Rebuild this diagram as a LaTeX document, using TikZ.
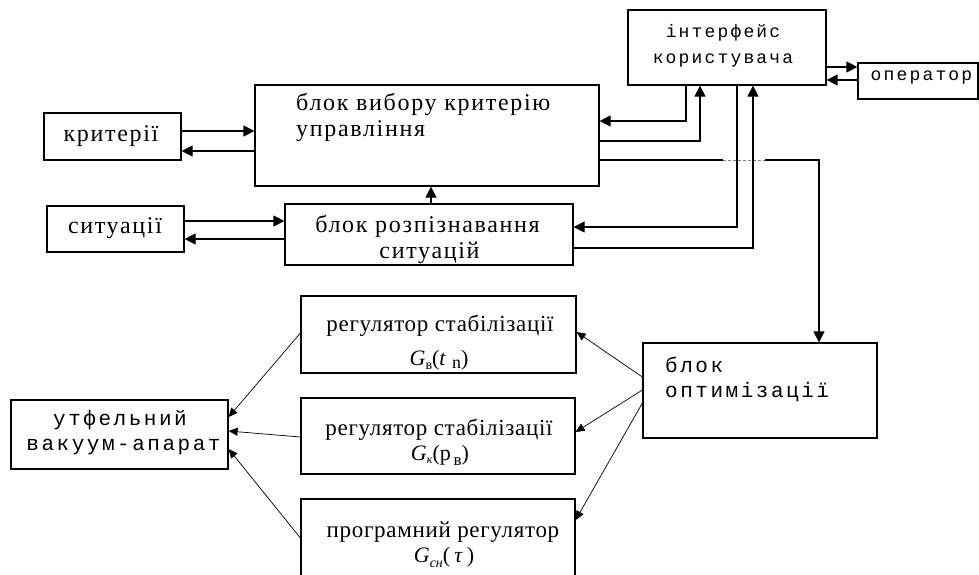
\documentclass[tikz,border=0pt]{standalone}
\usepackage{fontspec}
\setmainfont{Liberation Serif}
\newfontfamily\spserif[LetterSpace=7]{Liberation Serif}
\newfontfamily\regserif[LetterSpace=3]{Liberation Serif}
\newfontfamily\spmono[LetterSpace=12]{Liberation Mono}
\usetikzlibrary{arrows.meta}
\begin{document}
\begin{tikzpicture}[x=1pt,y=-1pt,
  box/.style={draw, line width=1.2pt, inner sep=0pt},
  lbl/.style={inner sep=0pt, anchor=base},
  lblw/.style={inner sep=0pt, anchor=base west},
  topfont/.style={font=\spserif\fontsize{24}{24}\selectfont},
  regfont/.style={font=\regserif\fontsize{23}{23}\selectfont},
  monos/.style={font=\spmono\fontsize{18}{18}\selectfont},
  monob/.style={font=\spmono\fontsize{21}{21}\selectfont},
  formfont/.style={font=\fontsize{22}{22}\selectfont},
  conn/.style={line width=1.2pt, -{Triangle[length=11pt,width=11pt]}},
  thinconn/.style={line width=0.7pt, -{Triangle[length=9pt,width=8pt]}},
]
\useasboundingbox (0,0) rectangle (979,574);
\clip (0,0) rectangle (979,574);

% boxes
\node[box, minimum width=137, minimum height=47]  (crit) at (112.5,136.5) {};
\node[box, minimum width=344, minimum height=101] (sel)  at (427,135.5) {};
\node[box, minimum width=137, minimum height=46]  (sit)  at (115.5,229) {};
\node[box, minimum width=288, minimum height=61]  (rozp) at (429,234.5) {};
\node[box, minimum width=198, minimum height=75]  (intf) at (727,47.5) {};
\node[box, minimum width=120, minimum height=36]  (oper) at (918,81) {};
\node[box, minimum width=234, minimum height=95]  (opt)  at (760,390.5) {};
\node[box, minimum width=275, minimum height=77]  (reg1) at (438.5,334.5) {};
\node[box, minimum width=274, minimum height=76]  (reg2) at (438,436) {};
\node[box, minimum width=274, minimum height=101] (reg3) at (438,549.5) {};
\node[box, minimum width=217, minimum height=69]  (utf)  at (119.5,434.5) {};

% texts
\node[lbl, topfont] (critt) at (111,141) {критерії};
\node[lblw, topfont] (selt1) at (296,110) {блок вибору критерію};
\node[lblw, topfont] (selt2) at (296,136) {управління};
\node[lbl, topfont] (sitt) at (115,233) {ситуації};
\node[lbl, topfont] (rozpt1) at (427.5,232) {блок розпізнавання};
\node[lbl, topfont] (rozpt2) at (429.5,258) {ситуацій};
\node[lbl, monos] (intft1) at (723,37) {інтерфейс};
\node[lbl, monos] (intft2) at (723,63) {користувача};
\node[lbl, monos] (opert) at (921.5,80) {оператор};
\node[lblw, monob] (optt1) at (665,372) {блок};
\node[lblw, monob] (optt2) at (665,397) {оптимізації};
\node[lbl, monob] (utft1) at (120,425) {утфельний};
\node[lbl, monob] (utft2) at (123.5,450) {вакуум-апарат};
\node[lbl, regfont] (reg1t) at (440,331) {регулятор стабілізації};
\node[lbl, regfont] (reg2t) at (439,435) {регулятор стабілізації};
\node[lbl, regfont] (reg3t) at (443,537) {програмний регулятор};
\node[lbl, formfont] (reg1f) at (439,365)
  {\textit{G}\raisebox{-4pt}{\fontsize{14}{14}\selectfont в}(\textit{t}\hspace{6pt}\raisebox{-3pt}{\fontsize{18}{18}\selectfont n})};
\node[lbl, formfont] (reg2f) at (440,460)
  {\textit{G}\raisebox{-3pt}{\fontsize{12}{12}\selectfont\itshape к}(p\raisebox{-5pt}{\fontsize{17}{17}\selectfont\,в})};
\node[lbl, formfont] (reg3f) at (444,562)
  {\textit{G}\raisebox{-5pt}{\fontsize{14}{14}\selectfont\itshape сн}(\hspace{4pt}\textit{τ}\hspace{4pt})};

% helper coordinates
\foreach \v in {67,80,121,131,141,151,160,221,227,239,248,332,333,377,390,403,417,431,432,437,449,520,538}
  \coordinate (h\v) at (0,\v);
\foreach \v in {431,686,700,737,753,819}
  \coordinate (v\v) at (\v,0);
\coordinate (j1) at (723,160);
\coordinate (j2) at (765,160);

% connectors left part
\draw[conn] (crit.east |- h131) -- (sel.west |- h131);
\draw[conn] (sel.west |- h151) -- (crit.east |- h151);
\draw[conn] (rozp.north -| v431) -- (sel.south -| v431);
\draw[conn] (sit.east |- h221) -- (rozp.west |- h221);
\draw[conn] (rozp.west |- h239) -- (sit.east |- h239);

% interface / selection
\draw[conn] (intf.south -| v686) |- (sel.east |- h121);
\draw[conn] (sel.east |- h141) -| (intf.south -| v700);
\draw[conn] (sel.east |- h160) -| (opt.north -| v819);
\draw[white, line width=3pt] (j1) -- (j2);
\draw[gray, line width=0.8pt, densely dashed] (j1) -- (j2);
\draw[conn] (intf.south -| v737) |- (rozp.east |- h227);
\draw[conn] (rozp.east |- h248) -| (intf.south -| v753);

% interface / operator
\draw[conn] (intf.east |- h67) -- (oper.west |- h67);
\draw[conn] (oper.west |- h80) -- (intf.east |- h80);

% optimisation -> regulators
\draw[thinconn] (opt.west |- h377) -- (reg1.east |- h332);
\draw[thinconn] (opt.west |- h390) -- (reg2.east |- h432);
\draw[thinconn] (opt.west |- h403) -- (reg3.east |- h520);

% regulators -> vacuum apparatus
\draw[thinconn] (reg1.west |- h333) -- (utf.east |- h417);
\draw[thinconn] (reg2.west |- h437) -- (utf.east |- h431);
\draw[thinconn] (reg3.west |- h538) -- (utf.east |- h449);
\end{tikzpicture}
\end{document}
